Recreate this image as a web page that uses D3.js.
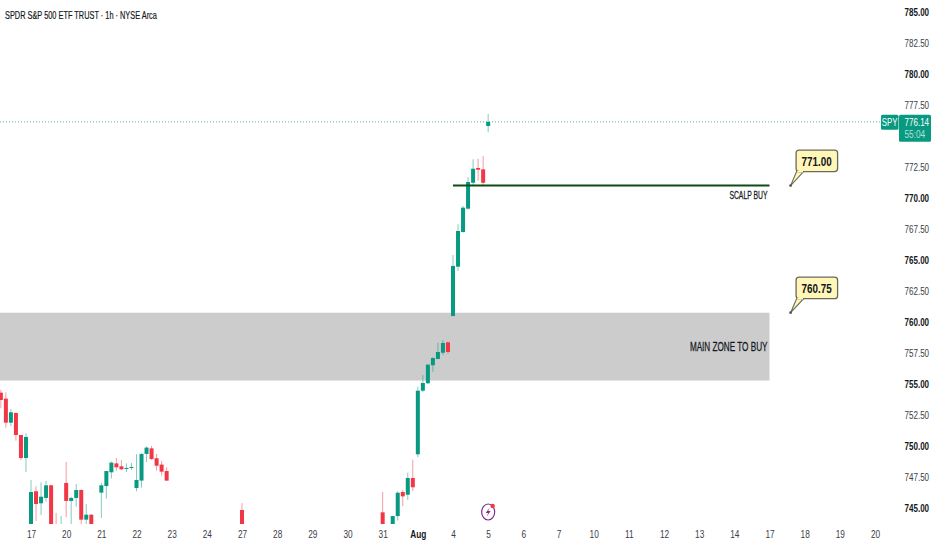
<!DOCTYPE html>
<html>
<head>
<meta charset="utf-8">
<script src="https://cdn.jsdelivr.net/npm/d3@7.9.0/dist/d3.min.js"></script>
<style>
  html, body { margin: 0; padding: 0; background: #fff; }
  svg { display: block; }
  text { font-family: "Liberation Sans", sans-serif; fill: #131722; }
</style>
</head>
<body>
<svg id="chart" width="932" height="550"></svg>
<script>
// bars that show above the bottom edge of the pane, 7 bars per session
const barIndex = [-6,-5,-4,-3,-2,-1,0,1,2,3,4,5,6,7,8,9,10,11,12,14,15,16,17,18,19,20,21,22,23,24,25,26,27,42,70,72,73,74,75,76,77,78,79,80,81,82,83,84,85,86,87,88,89,90,91];
const barOpen = [754.30,753.82,751.88,752.66,750.89,749.03,743.00,746.35,745.38,745.81,746.83,743.50,743.00,747.02,745.57,745.81,746.45,744.06,744.46,746.24,746.77,747.88,748.60,748.36,748.17,748.25,746.61,747.21,749.36,749.81,749.01,748.50,747.98,744.84,744.65,743.00,744.35,746.29,746.07,747.42,749.33,754.46,755.06,756.51,757.02,757.52,758.36,760.48,764.46,767.26,769.14,771.23,772.42,772.31,775.81];
const barHigh = [754.52,754.33,752.98,752.72,750.89,751.02,747.26,746.75,747.07,747.18,746.88,744.60,744.36,748.71,745.91,746.94,746.51,745.32,744.49,747.04,747.98,748.74,749.03,748.87,748.60,748.63,749.33,749.41,749.97,750.00,749.36,748.79,748.28,745.40,746.29,744.35,746.35,746.45,747.85,748.90,754.78,755.73,756.61,757.15,758.33,758.55,758.44,765.40,767.88,769.35,771.67,773.12,773.17,773.39,776.77];
const barLow = [753.04,751.48,751.61,750.43,748.87,747.90,742.80,743.95,744.44,745.51,742.80,742.80,742.80,744.25,743.20,745.11,743.20,743.20,742.80,744.19,745.75,747.39,748.01,748.07,747.90,748.07,746.35,746.64,748.71,748.87,748.01,747.61,747.18,742.80,742.80,742.80,743.98,745.16,745.65,746.35,749.09,754.35,755.00,755.97,757.00,757.34,757.44,760.48,764.11,767.20,769.06,771.05,771.40,771.05,775.30];
const barClose = [753.71,751.88,752.72,750.89,749.03,750.73,746.29,745.32,745.91,746.83,743.00,743.00,743.50,745.57,745.81,746.45,744.06,744.46,743.00,746.83,747.98,748.66,748.28,748.12,748.23,748.31,747.26,749.36,749.87,748.95,748.41,747.93,747.21,743.00,743.00,744.35,746.23,745.94,747.42,746.67,754.46,755.08,756.56,757.10,757.58,758.31,757.58,764.52,767.34,769.22,771.29,772.36,772.28,771.23,776.14];

const dayLabels = ['17','20','21','22','23','24','27','28','29','30','31','Aug','4','5','6','7','10','11','12','13','14','17','18','19','20'];
const priceTicks = [745,747.5,750,752.5,755,757.5,760,762.5,765,767.5,770,772.5,777.5,780,782.5,785];

const lastPrice = 776.14;
const countdown = '55:04';
const scalpLevel = 771;
const zoneTop = 760.75;
const zoneBottom = 755.28;
const lineStartBar = 84;
const drawingEndBar = 147;
const calloutBar = 151.2;
const eventBar = 91;

const GREEN = '#089981';
const RED = '#f23645';
const paneBottom = 524;

const svg = d3.select('#chart');

const x = d3.scaleLinear().domain([0, 147]).range([31, 769.5]);
const y = d3.scaleLinear().domain([785, 745]).range([12, 508]);

// no condensed font installed, so squeeze the real text around its own anchor
function squeeze(sel, factor) {
  sel.each(function () {
    const ax = +this.getAttribute('x') || 0;
    d3.select(this).attr('transform', `translate(${ax},0) scale(${factor},1) translate(${-ax},0)`);
  });
  return sel;
}

svg.append('defs').append('clipPath').attr('id', 'pane')
  .append('rect').attr('x', 0).attr('y', 0).attr('width', 880).attr('height', paneBottom);

const pane = svg.append('g').attr('clip-path', 'url(#pane)');

// main zone
pane.append('rect')
  .attr('x', 0)
  .attr('y', y(zoneTop))
  .attr('width', x(drawingEndBar))
  .attr('height', y(zoneBottom) - y(zoneTop))
  .attr('fill', '#cccccc');

// last price line
svg.append('line')
  .attr('x1', 0).attr('x2', 881)
  .attr('y1', y(lastPrice)).attr('y2', y(lastPrice))
  .attr('stroke', GREEN).attr('stroke-opacity', 0.7)
  .attr('stroke-dasharray', '1 2');

const bars = barIndex.map((bar, i) => ({
  bar, open: barOpen[i], high: barHigh[i], low: barLow[i], close: barClose[i]
}));

pane.selectAll('line.wick').data(bars).join('line')
  .attr('class', 'wick')
  .attr('x1', d => x(d.bar)).attr('x2', d => x(d.bar))
  .attr('y1', d => y(d.high)).attr('y2', d => y(d.low))
  .attr('stroke', d => d.close >= d.open ? GREEN : RED)
  .attr('stroke-opacity', 0.5);

pane.selectAll('rect.body').data(bars).join('rect')
  .attr('class', 'body')
  .attr('x', d => x(d.bar) - 2)
  .attr('width', 4)
  .attr('y', d => y(Math.max(d.open, d.close)))
  .attr('height', d => Math.max(1, Math.abs(y(d.open) - y(d.close))))
  .attr('fill', d => d.close >= d.open ? GREEN : RED);

// scalp line
pane.append('line')
  .attr('x1', x(lineStartBar)).attr('x2', x(drawingEndBar))
  .attr('y1', y(scalpLevel)).attr('y2', y(scalpLevel))
  .attr('stroke', '#0d4d14').attr('stroke-width', 2);

squeeze(svg.append('text')
  .attr('x', x(drawingEndBar) - 2).attr('y', 199)
  .attr('text-anchor', 'end')
  .attr('font-size', 11)
  .attr('stroke', '#131722').attr('stroke-width', 0.25)
  .text('SCALP BUY'), 0.62);

squeeze(svg.append('text')
  .attr('x', x(drawingEndBar) - 2).attr('y', 351)
  .attr('text-anchor', 'end')
  .attr('font-size', 12)
  .attr('stroke', '#131722').attr('stroke-width', 0.25)
  .text('MAIN ZONE TO BUY'), 0.68);

// callouts
function callout(level, label) {
  const ax = x(calloutBar);
  const ay = y(level);
  const g = svg.append('g');
  g.append('path')
    .attr('d', `M${ax},${ay} L${ax + 6},${ay - 14} L${ax + 13},${ay - 14} Z`)
    .attr('fill', '#fff6b8').attr('stroke', '#6a6a5c').attr('stroke-width', 1.1);
  g.append('rect')
    .attr('x', ax + 5.5).attr('y', ay - 35.5)
    .attr('width', 41.5).attr('height', 21.5).attr('rx', 3)
    .attr('fill', '#fff6b8').attr('stroke', '#6a6a5c').attr('stroke-width', 1.3);
  g.append('path')
    .attr('d', `M${ax + 6.6},${ay - 14} L${ax + 12.4},${ay - 14}`)
    .attr('stroke', '#fff6b8').attr('stroke-width', 1.6);
  g.append('circle').attr('cx', ax).attr('cy', ay).attr('r', 1.4).attr('fill', '#555');
  squeeze(g.append('text')
    .attr('x', ax + 26).attr('y', ay - 20)
    .attr('text-anchor', 'middle')
    .attr('font-size', 13).attr('font-weight', 700)
    .text(label), 0.76);
}
callout(scalpLevel, '771.00');
callout(zoneTop, '760.75');

// axes
const yAxis = d3.axisRight(y).tickValues(priceTicks).tickFormat(d3.format('.2f')).tickSize(0);
const yG = svg.append('g').attr('transform', 'translate(904.5,0)').call(yAxis);
yG.select('.domain').remove();
yG.selectAll('text')
  .attr('x', 0)
  .attr('font-size', 11.5)
  .attr('font-weight', d => d % 5 === 0 ? 700 : 400)
  .style('font-family', '"Liberation Sans", sans-serif')
  .style('fill', d => d % 5 === 0 ? '#131722' : '#3a3e48');
squeeze(yG.selectAll('text'), 0.7);

const xAxis = d3.axisBottom(x)
  .tickValues(dayLabels.map((d, i) => i * 7))
  .tickFormat((d, i) => dayLabels[i])
  .tickSize(0);
const xG = svg.append('g').attr('transform', `translate(0,${paneBottom})`).call(xAxis);
xG.select('.domain').remove();
xG.selectAll('text')
  .attr('y', 6)
  .attr('font-size', 11.5)
  .attr('font-weight', (d, i) => dayLabels[i] === 'Aug' ? 700 : 400)
  .style('font-family', '"Liberation Sans", sans-serif')
  .style('fill', (d, i) => dayLabels[i] === 'Aug' ? '#131722' : '#3a3e48');
squeeze(xG.selectAll('text'), 0.72);

// price tag
svg.append('rect').attr('x', 881).attr('y', y(lastPrice) - 7).attr('width', 17.5).attr('height', 15).attr('rx', 1.5).attr('fill', GREEN);
svg.append('rect').attr('x', 899).attr('y', y(lastPrice) - 7).attr('width', 32).attr('height', 27).attr('rx', 1.5).attr('fill', GREEN);
squeeze(svg.append('text').attr('x', 889.7).attr('y', y(lastPrice) + 4).attr('text-anchor', 'middle')
  .attr('font-size', 11.5).style('fill', '#fff').text('SPY'), 0.68);
squeeze(svg.append('text').attr('x', 904.5).attr('y', y(lastPrice) + 4)
  .attr('font-size', 11.5).style('fill', '#fff').text(d3.format('.2f')(lastPrice)), 0.7);
squeeze(svg.append('text').attr('x', 904.5).attr('y', y(lastPrice) + 16.5)
  .attr('font-size', 11.5).style('fill', '#fff').style('fill-opacity', 0.7).text(countdown), 0.72);

// title
squeeze(svg.append('text').attr('x', 5).attr('y', 19)
  .attr('font-size', 11)
  .attr('stroke', '#131722').attr('stroke-width', 0.2)
  .text('SPDR S&P 500 ETF TRUST · 1h · NYSE Arca'), 0.67);

// earnings marker
const ev = svg.append('g').attr('transform', `translate(${x(eventBar)},${512})`);
ev.append('ellipse').attr('rx', 6.5).attr('ry', 8).attr('fill', '#fff').attr('stroke', '#7b2d8b').attr('stroke-width', 1.2);
ev.append('path').attr('d', 'M1.5,-4.5 L-2.5,1 L0,1 L-1.5,4.5 L2.5,-1 L0,-1 Z').attr('fill', '#8e2a8e');
ev.append('circle').attr('cx', 4.5).attr('cy', -6).attr('r', 2.2).attr('fill', RED);
</script>
</body>
</html>
